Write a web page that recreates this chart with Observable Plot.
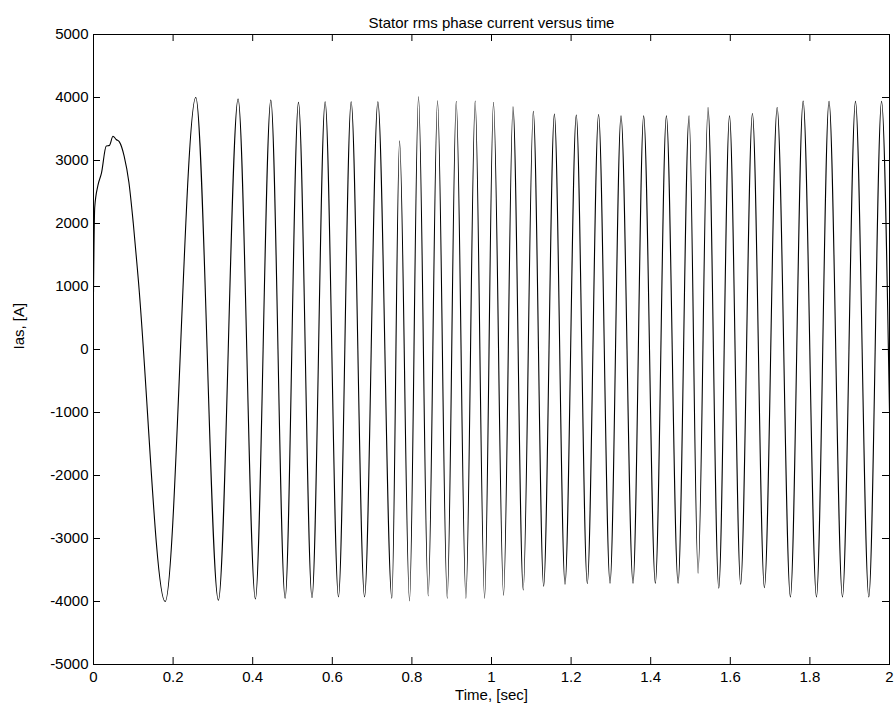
<!DOCTYPE html>
<html>
<head>
<meta charset="utf-8">
<script src="https://cdn.jsdelivr.net/npm/d3@7"></script>
<script src="https://cdn.jsdelivr.net/npm/@observablehq/plot@0.6"></script>
<style>
  html, body { margin: 0; padding: 0; background: #fff; }
</style>
</head>
<body>
<div id="chart"></div>
<script>
// Time [sec] and current [A] at turning points / shape points
const timeSec = [
  0, 0.003, 0.011, 0.020, 0.032, 0.040, 0.049, 0.057, 0.065, 0.077, 0.089, 0.100, 0.112,
  0.180, 0.257, 0.3138, 0.3633, 0.4068, 0.4455, 0.4815, 0.515, 0.549, 0.582, 0.6155, 0.6474,
  0.681, 0.7145, 0.7497, 0.769, 0.794, 0.8166, 0.841, 0.8644, 0.8888, 0.9114, 0.9357, 0.959,
  0.9826, 1.005, 1.0303, 1.054, 1.0798, 1.105, 1.131, 1.158, 1.1847, 1.213, 1.2407, 1.269,
  1.2978, 1.3254, 1.3556, 1.3823, 1.4117, 1.4394, 1.4688, 1.4964, 1.519, 1.544, 1.571, 1.598,
  1.626, 1.6556, 1.6857, 1.7177, 1.751, 1.783, 1.8165, 1.848, 1.8818, 1.9145, 1.948, 1.980, 2.0
];
const currentA = [
  900, 2250, 2600, 2800, 3230, 3240, 3386, 3333, 3296, 3070, 2650, 2000, 1150,
  -4001, 4001, -3980, 3975, -3959, 3959, -3948, 3922, -3938, 3932, -3927, 3932,
  -3927, 3932, -3948, 3312, -3990, 4011, -3911, 3948, -3948, 3938, -3948, 3943,
  -3948, 3922, -3900, 3852, -3816, 3779, -3757, 3736, -3725, 3720, -3715, 3731,
  -3709, 3709, -3709, 3709, -3709, 3709, -3709, 3709, -3550, 3842, -3789, 3709,
  -3725, 3747, -3779, 3842, -3927, 3943, -3927, 3938, -3927, 3938, -3927, 3938, -1000
];
const xTicks = [0, 0.2, 0.4, 0.6, 0.8, 1, 1.2, 1.4, 1.6, 1.8, 2];
const yTicks = [-5000, -4000, -3000, -2000, -1000, 0, 1000, 2000, 3000, 4000, 5000];
const titleText = "Stator rms phase current versus time";
const xLabel = "Time, [sec]";
const yLabel = "Ias, [A]";

const data = timeSec.map((t, i) => ({t, v: currentA[i]}));

const W = 896, H = 717;
const mL = 93, mR = 7, mT = 34, mB = 53;
const innerH = H - mT - mB;
const innerW = W - mL - mR;
const tick = 7;
const fs = 15;

const chart = Plot.plot({
  width: W,
  height: H,
  marginLeft: mL,
  marginRight: mR,
  marginTop: mT,
  marginBottom: mB,
  style: {fontFamily: "'Liberation Sans', Arial, Helvetica, sans-serif", fontSize: fs + "px", color: "black", background: "white"},
  x: {domain: [0, 2], label: null},
  y: {domain: [-5000, 5000], label: null},
  marks: [
    Plot.axisX(xTicks, {tickSize: 0, tickPadding: 7, tickFormat: d => String(d), label: null, fontSize: fs}),
    Plot.axisY(yTicks, {tickSize: 0, tickPadding: 5, tickFormat: d => String(d), label: null, fontSize: fs}),
    Plot.tickX(xTicks, {x: d => d, insetTop: innerH - tick, stroke: "black"}),
    Plot.tickX(xTicks, {x: d => d, insetBottom: innerH - tick, stroke: "black"}),
    Plot.tickY(yTicks, {y: d => d, insetRight: innerW - tick, stroke: "black"}),
    Plot.tickY(yTicks, {y: d => d, insetLeft: innerW - tick, stroke: "black"}),
    Plot.line(data, {x: "t", y: "v", curve: "monotone-x", stroke: "black", strokeWidth: 1.1, clip: true}),
    Plot.frame({stroke: "black", strokeWidth: 1}),
    Plot.text([titleText], {frameAnchor: "top", dy: -17, fontSize: fs, fill: "black"}),
    Plot.text([xLabel], {frameAnchor: "bottom", dy: 35, fontSize: fs, fill: "black"}),
    Plot.text([yLabel], {frameAnchor: "left", dx: -74, rotate: -90, fontSize: fs, fill: "black"})
  ]
});
document.getElementById("chart").appendChild(chart);
</script>
</body>
</html>
